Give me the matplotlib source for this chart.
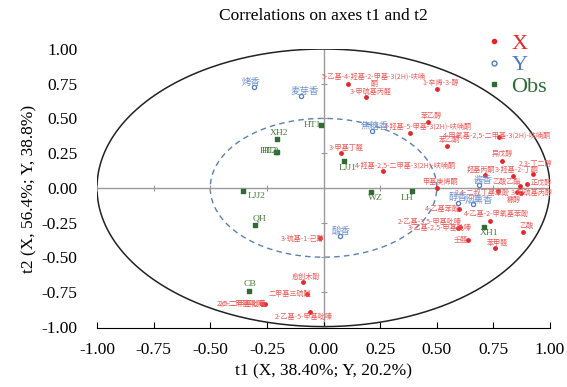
import numpy as np
import matplotlib
matplotlib.use('Agg')
import matplotlib.pyplot as plt
from matplotlib.lines import Line2D

plt.rcParams['font.family'] = ['Liberation Serif', 'Noto Sans CJK SC']

# X variables (volatile compounds)
x_names = ['5-乙基-4-羟基-2-甲基-3(2H)-呋喃\n酮', '3-甲硫基丙醛', '1-辛烯-3-醇', '苯乙醇',
           '4-羟基-5-甲基-3(2H)-呋喃酮', '4-甲氧基-2,5-二甲基-3(2H)-呋喃酮', '苯乙酮',
           '4-羟基-2,5-二甲基-3(2H)-呋喃酮', '3-甲基丁醛', '异戊醇', '2,3-丁二醇',
           '3-羟基-2-丁酮', '羟基丙酮', '乙酸乙酯', '正戊醇', '甲基庚烯酮',
           '2,4-二叔丁基苯酚', '3-甲硫基丙醇', '糠醇', '4-乙基苯酚',
           '2-乙基-3,5-甲基吡嗪', '3-乙基-2,5-甲基吡嗪', '4-乙基-2-甲氧基苯酚', '乙酸',
           '壬醛', '苯甲醛', '3-巯基-1-己醇', '愈创木酚', '二甲基三硫醚',
           '2,5-二甲基吡嗪', '2,6-二甲基吡嗪', '2-乙基-5-甲基吡嗪']
x_t1 = [0.108, 0.188, 0.502, 0.462, 0.382, 0.775, 0.545, 0.263, 0.077, 0.788, 0.925,
        0.837, 0.713, 0.868, 0.899, 0.501, 0.770, 0.872, 0.854, 0.598, 0.603, 0.594,
        0.735, 0.881, 0.638, 0.757, -0.015, -0.091, -0.073, -0.258, -0.272, -0.060]
x_t2 = [0.747, 0.653, 0.711, 0.473, 0.394, 0.365, 0.300, 0.119, 0.249, 0.191, 0.097,
        0.083, 0.090, 0.011, 0.025, -0.004, -0.025, -0.040, -0.032, -0.155, -0.285,
        -0.292, -0.242, -0.321, -0.379, -0.437, -0.365, -0.682, -0.762, -0.834, -0.834,
        -0.892]

# Y variables (sensory attributes)
y_names = ['烤香', '麦芽香', '焦糖香', '酱香', '醇香', '烟熏香', '酸香']
y_t1 = [-0.307, -0.099, 0.214, 0.687, 0.596, 0.662, 0.073]
y_t2 = [0.726, 0.661, 0.408, 0.018, -0.112, -0.119, -0.350]

# observations
obs_names = ['HT1', 'XH2', 'HT2', 'HT3', 'LJJ1', 'LJJ2', 'WZ', 'LH', 'QH', 'XH1', 'CB']
obs_t1 = [-0.011, -0.205, -0.210, -0.205, 0.091, -0.355, 0.210, 0.391, -0.302, 0.709, -0.329]
obs_t2 = [0.451, 0.350, 0.256, 0.256, 0.191, -0.025, -0.032, -0.025, -0.271, -0.285, -0.740]

# label offsets (pixels) from each marker
x_off = [(26, 4), (5, 5), (4, 6), (3, 6), (18, 7), (-2, 2), (3, 6), (22, 6), (5, 5),
         (0, 7), (3, 11), (4, 7), (-4, 6), (-13, 4), (14, 1), (3, 6), (-16, -1), (11, 0),
         (-3, -8), (-17, 0), (-30, 6), (-18, 1), (7, 7), (3, 6), (-7, 0), (3, 5),
         (-17, 0), (3, 6), (-17, 0), (-22, 0), (-21, 0), (-6, -5)]
y_off = [(-3, 5), (4, 5), (3, 5), (4, 5), (0, 6), (5, 4), (1, 5)]
obs_off = [(-9, 0), (2, 6), (-8, 1), (-7, 1), (3, -7), (14, -5), (4, -6), (-5, -7),
           (4, 7), (5, -6), (1, 7)]

red = '#e3262b'
red_txt = '#ee5a5a'
blue = '#4f7cc0'
blue_txt = '#6f93cf'
green = '#2f6b33'
green_txt = '#4a7c3c'
cjk = ['Noto Sans CJK SC', 'DejaVu Sans']

fig = plt.figure(figsize=(5.67, 3.87), dpi=100)
ax = fig.add_axes([97 / 567, 1 - 328 / 387, 453 / 567, 279 / 387])

# circles
t = np.linspace(0, 2 * np.pi, 400)
ax.plot(np.cos(t), np.sin(t), color='#222222', lw=1.1)
ax.plot(0.5 * np.cos(t), 0.5 * np.sin(t), color='#5b80b5', lw=1.0, ls=(0, (4, 3)))

# center axes with small ticks
ax.axhline(0, color='#9a9a9a', lw=1.0, zorder=1)
ax.axvline(0, color='#9a9a9a', lw=1.0, zorder=1)
tk = [-1, -0.75, -0.5, -0.25, 0.25, 0.5, 0.75]
ax.plot(tk, [0] * len(tk), ls='none', marker='|', ms=5, color='#9a9a9a', mew=0.8)
ax.plot([0] * len(tk), tk, ls='none', marker='_', ms=5, color='#9a9a9a', mew=0.8)

ax.scatter(x_t1, x_t2, s=6, color=red, zorder=3)
ax.scatter(y_t1, y_t2, s=9, facecolor='white', edgecolor=blue, lw=0.9, zorder=3)
ax.scatter(obs_t1, obs_t2, s=8, marker='s', color=green, zorder=3)

for n, a, b, o in zip(x_names, x_t1, x_t2, x_off):
    ax.annotate(n, (a, b), xytext=o, textcoords='offset pixels', ha='center',
                va='center', fontsize=5.1, color=red_txt, family=cjk, linespacing=0.9)
for n, a, b, o in zip(y_names, y_t1, y_t2, y_off):
    ax.annotate(n, (a, b), xytext=o, textcoords='offset pixels', ha='center',
                va='center', fontsize=6.8, color=blue_txt, family=cjk)
for n, a, b, o in zip(obs_names, obs_t1, obs_t2, obs_off):
    ax.annotate(n, (a, b), xytext=o, textcoords='offset pixels', ha='center',
                va='center', fontsize=6.8, color=green_txt)

ax.set_xlim(-1, 1)
ax.set_ylim(-1.01, 1.0)
ticks = np.arange(-1, 1.01, 0.25)
ax.set_xticks(ticks)
ax.set_yticks(ticks)
ax.set_xticklabels(['%.2f' % v for v in ticks], fontsize=12.5)
ax.set_yticklabels(['%.2f' % v for v in ticks], fontsize=12.5)
for s in ['top', 'right', 'left']:
    ax.spines[s].set_visible(False)
ax.tick_params(axis='x', direction='in', length=4, pad=10)
ax.tick_params(axis='y', length=0, pad=14)

ax.set_xlabel('t1 (X, 38.40%; Y, 20.2%)', fontsize=12.5, labelpad=4)
ax.set_ylabel('t2 (X, 56.4%; Y, 38.8%)', fontsize=12.5, labelpad=3)
ax.set_title('Correlations on axes t1 and t2', fontsize=12.5, pad=21)

handles = [Line2D([], [], ls='none', marker='o', ms=3, color=red),
           Line2D([], [], ls='none', marker='o', ms=3.5, mfc='white', mec=blue),
           Line2D([], [], ls='none', marker='s', ms=3, color=green)]
leg = fig.legend(handles, ['X', 'Y', 'Obs'], loc='upper left',
                 bbox_to_anchor=(476 / 567, 1 - 22 / 387), frameon=False,
                 fontsize=16, handlelength=0.6, handletextpad=0.5,
                 labelspacing=0.05, borderpad=0)
for txt, c in zip(leg.get_texts(), [red, blue, green]):
    txt.set_color(c)

fig.savefig('out.png', dpi=100)
